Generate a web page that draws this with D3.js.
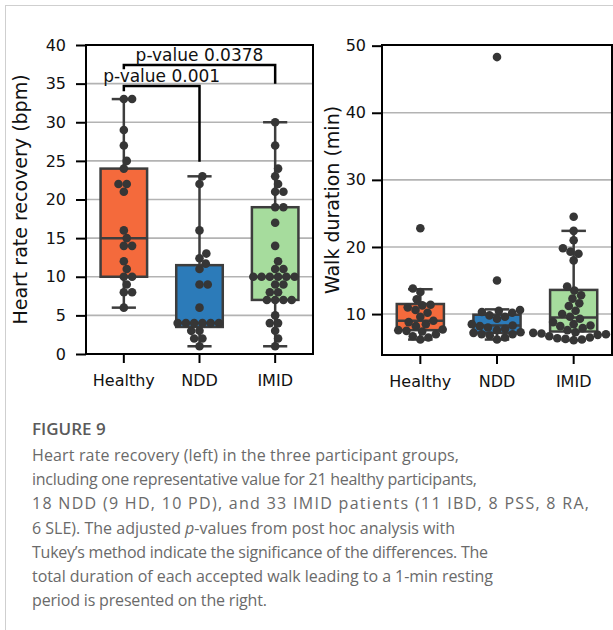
<!DOCTYPE html>
<html>
<head>
<meta charset="utf-8">
<script src="https://cdn.jsdelivr.net/npm/d3@7/dist/d3.min.js"></script>
<style>
  html, body { margin: 0; padding: 0; background: #fff; }
  svg { display: block; }
</style>
</head>
<body>
<svg id="chart" width="613" height="630"></svg>
<script>
// ---------------- DATA ----------------
const categories = ["Healthy", "NDD", "IMID"];

// Heart rate recovery (bpm) – individual points
const hrrHealthy = [33, 33, 29, 27, 25, 24, 22, 22, 21, 16, 15, 14, 14, 12, 11, 10, 10, 9, 8, 8, 6];
const hrrNDD = [23, 22, 16, 13, 12.4, 11.7, 11, 9, 9, 6, 4, 4, 4, 4, 4, 4, 3, 3, 2, 2, 1];
const hrrIMID = [30, 27, 24, 23, 22, 21, 21, 19, 19, 17, 14, 12, 11, 11, 10, 10, 10, 10, 10, 10,
                 9, 9, 8, 8, 7, 7, 7, 7, 5, 4, 4, 3, 2, 1];
// Heart rate recovery box statistics
const hrrQ1 = [10, 3.5, 7];
const hrrMedian = [15, 4, 10];
const hrrQ3 = [24, 11.5, 19];
const hrrLow = [6, 1, 1];
const hrrHigh = [33, 23, 30];

// Walk duration (min) – individual points
const walkHealthy = [22.8, 13.8, 13.3, 12.2, 11.4, 11.3, 11.0, 10.6, 10.2, 9.6, 9.0, 8.8, 8.5, 8.2,
                     7.7, 7.6, 7.5, 7.4, 7.0, 6.7, 6.5, 6.2];
const walkNDD = [48.3, 15.0, 10.6, 10.5, 10.3, 10.2, 9.8, 9.6, 9.3, 8.5, 8.3, 8.2, 8.0, 7.8, 7.6,
                 7.3, 7.2, 7.0, 7.0, 6.8, 6.5, 6.2];
const walkIMID = [24.5, 22.4, 21.0, 19.8, 19.3, 19.0, 18.0, 14.1, 13.5, 12.8, 12.3, 11.6, 11.2, 10.5,
                  10.0, 9.6, 9.3, 8.8, 8.5, 8.3, 8.2, 7.9, 7.6, 7.3, 7.2, 7.1, 7.0, 6.9, 6.7, 6.5,
                  6.4, 6.3, 6.2, 6.1];
// Walk duration box statistics
const walkQ1 = [7.6, 7.2, 7.4];
const walkMedian = [9.0, 8.3, 9.5];
const walkQ3 = [11.5, 9.9, 13.6];
const walkLow = [6.2, 6.2, 6.1];
const walkHigh = [13.7, 10.7, 22.4];

// Tick labels
const hrrTicks = [0, 5, 10, 15, 20, 25, 30, 35, 40];
const walkTicks = [10, 20, 30, 40, 50];

// Significance annotations (left panel)
const sigFrom = ["Healthy", "Healthy"];
const sigTo = ["NDD", "IMID"];
const sigLabel = ["p-value 0.001", "p-value 0.0378"];
const sigBar = [34.7, 37.4];
const sigLeftEnd = [34.0, 36.85];
const sigRightEnd = [24.9, 35.0];

const captionTitle = "FIGURE 9";
const captionLines = [
  "Heart rate recovery (left) in the three participant groups,",
  "including one representative value for 21 healthy participants,",
  "18 NDD (9 HD, 10 PD), and 33 IMID patients (11 IBD, 8 PSS, 8 RA,",
  "6 SLE). The adjusted |p|-values from post hoc analysis with",
  "Tukey\u2019s method indicate the significance of the differences. The",
  "total duration of each accepted walk leading to a 1-min resting",
  "period is presented on the right."
];
// measured rendered width of each caption line in the reference (px)
const captionWidths = [427, 445, 557, 423, 456, 461, 235];

// ---------------- STYLE ----------------
const boxColors = ["#f46a3c", "#2c7bb9", "#a6dc9d"];
const edgeColor = "#3d3d3d";
const dotColor = "#363636";
const gridColor = "#b3b3b3";
const fontFam = "DejaVu Sans, sans-serif";

const svg = d3.select("#chart");

// page border
svg.append("line").attr("x1", 5.5).attr("x2", 5.5).attr("y1", 5).attr("y2", 630)
  .attr("stroke", "#cfcfcf").attr("stroke-width", 1);
svg.append("line").attr("x1", 5).attr("x2", 613).attr("y1", 5.5).attr("y2", 5.5)
  .attr("stroke", "#cfcfcf").attr("stroke-width", 1);

function drawPanel(opts) {
  const { x0, x1, y0, y1, domain, ticks, groups, q1, med, q3, lo, hi, ylabel, ylabelX, yPad } = opts;
  const x = d3.scaleBand().domain(categories).range([x0, x1]).padding(0);
  const y = d3.scaleLinear().domain(domain).range([y1, y0]);
  const g = svg.append("g");
  const bw = x.bandwidth() * 0.615;
  const capW = bw * 0.52;

  // grid
  g.append("g").selectAll("line").data(ticks.filter(t => y(t) > y0 + 1 && y(t) < y1 - 1)).join("line")
    .attr("x1", x0).attr("x2", x1).attr("y1", d => y(d)).attr("y2", d => y(d))
    .attr("stroke", gridColor).attr("stroke-width", 1.6);

  // boxes
  categories.forEach((c, i) => {
    const cx = x(c) + x.bandwidth() / 2;
    g.append("line").attr("x1", cx).attr("x2", cx).attr("y1", y(hi[i])).attr("y2", y(q3[i]))
      .attr("stroke", edgeColor).attr("stroke-width", 2.5);
    g.append("line").attr("x1", cx).attr("x2", cx).attr("y1", y(q1[i])).attr("y2", y(lo[i]))
      .attr("stroke", edgeColor).attr("stroke-width", 2.5);
    [hi[i], lo[i]].forEach(v => {
      g.append("line").attr("x1", cx - capW / 2).attr("x2", cx + capW / 2)
        .attr("y1", y(v)).attr("y2", y(v))
        .attr("stroke", edgeColor).attr("stroke-width", 2.5);
    });
    g.append("rect").attr("x", cx - bw / 2).attr("width", bw)
      .attr("y", y(q3[i])).attr("height", y(q1[i]) - y(q3[i]))
      .attr("fill", boxColors[i]).attr("stroke", edgeColor).attr("stroke-width", 2.5);
    g.append("line").attr("x1", cx - bw / 2).attr("x2", cx + bw / 2)
      .attr("y1", y(med[i])).attr("y2", y(med[i]))
      .attr("stroke", edgeColor).attr("stroke-width", 2.5);
  });

  // swarm points
  const r = 4.3;
  const d = 2 * r * 0.96;
  categories.forEach((c, i) => {
    const cx = x(c) + x.bandwidth() / 2;
    const vals = groups[i].slice().sort((a, b) => a - b);
    const placed = [];
    vals.forEach(v => {
      const py = y(v);
      const cands = [0];
      placed.forEach(p => {
        const dy = Math.abs(p.y - py);
        if (dy < d) {
          const dx = Math.sqrt(d * d - dy * dy);
          cands.push(p.dx + dx, p.dx - dx);
        }
      });
      cands.sort((a, b) => Math.abs(a) - Math.abs(b) || b - a);
      let chosen = 0;
      for (const cdx of cands) {
        const ok = placed.every(p => Math.hypot(p.dx - cdx, p.y - py) >= d - 0.01);
        if (ok) { chosen = cdx; break; }
      }
      placed.push({ dx: chosen, y: py });
    });
    g.append("g").selectAll("circle").data(placed).join("circle")
      .attr("cx", p => cx + p.dx).attr("cy", p => p.y).attr("r", r)
      .attr("fill", dotColor);
  });

  // frame
  g.append("rect").attr("x", x0).attr("y", y0).attr("width", x1 - x0).attr("height", y1 - y0)
    .attr("fill", "none").attr("stroke", "#000").attr("stroke-width", 2);

  // axes
  const yAxis = d3.axisLeft(y).tickValues(ticks).tickSize(10).tickPadding(yPad).tickFormat(d3.format("d"));
  const ya = g.append("g").attr("transform", `translate(${x0},0)`).call(yAxis);
  ya.select(".domain").remove();
  ya.selectAll(".tick line").attr("stroke", "#000").attr("stroke-width", 2);
  ya.selectAll(".tick text").attr("font-family", fontFam).attr("font-size", 16).attr("fill", "#111");

  const xAxis = d3.axisBottom(x).tickSize(9).tickPadding(12);
  const xa = g.append("g").attr("transform", `translate(0,${y1})`).call(xAxis);
  xa.select(".domain").remove();
  xa.selectAll(".tick line").attr("stroke", "#000").attr("stroke-width", 2);
  xa.selectAll(".tick text").attr("font-family", fontFam).attr("font-size", 16).attr("fill", "#111");

  g.append("text").attr("transform", `translate(${ylabelX},${(y0 + y1) / 2}) rotate(-90)`)
    .attr("text-anchor", "middle").attr("dominant-baseline", "central")
    .attr("font-family", fontFam).attr("font-size", 19).attr("fill", "#111")
    .text(ylabel);

  return { x, y, g };
}

const left = drawPanel({
  x0: 86, x1: 313, y0: 45, y1: 354, domain: [0, 40], ticks: hrrTicks,
  groups: [hrrHealthy, hrrNDD, hrrIMID], q1: hrrQ1, med: hrrMedian, q3: hrrQ3, lo: hrrLow, hi: hrrHigh,
  ylabel: "Heart rate recovery (bpm)", ylabelX: 20, yPad: 10
});
const right = drawPanel({
  x0: 382, x1: 612, y0: 45, y1: 355, domain: [3.9, 50.1], ticks: walkTicks,
  groups: [walkHealthy, walkNDD, walkIMID], q1: walkQ1, med: walkMedian, q3: walkQ3, lo: walkLow, hi: walkHigh,
  ylabel: "Walk duration (min)", ylabelX: 332, yPad: 6
});

// significance brackets
sigLabel.forEach((lab, i) => {
  const { x, y, g } = left;
  const xa = x(sigFrom[i]) + x.bandwidth() / 2;
  const xb = x(sigTo[i]) + x.bandwidth() / 2;
  const path = d3.path();
  path.moveTo(xa, y(sigLeftEnd[i]));
  path.lineTo(xa, y(sigBar[i]));
  path.lineTo(xb, y(sigBar[i]));
  path.lineTo(xb, y(sigRightEnd[i]));
  g.append("path").attr("d", path.toString()).attr("fill", "none")
    .attr("stroke", "#000").attr("stroke-width", 2.5);
  g.append("text").attr("x", (xa + xb) / 2).attr("y", y(sigBar[i]) - 4)
    .attr("text-anchor", "middle").attr("font-family", fontFam).attr("font-size", 17)
    .attr("fill", "#111").text(lab);
});

// caption
const capFont = "'Open Sans', 'Noto Sans', sans-serif";
svg.append("text").attr("x", 32).attr("y", 435).attr("font-family", capFont)
  .attr("font-size", 17).attr("font-weight", 600).attr("fill", "#5a5a5a").text(captionTitle);
captionLines.forEach((ln, i) => {
  const t = svg.append("text").attr("x", 32).attr("y", 461 + i * 24.2)
    .attr("font-family", capFont).attr("font-size", 16).attr("font-weight", 400).attr("fill", "#6a6a6a")
    .attr("textLength", captionWidths[i]).attr("lengthAdjust", "spacing");
  const parts = ln.split("|");
  parts.forEach((p, j) => {
    const ts = t.append("tspan").text(p);
    if (j % 2 === 1) ts.attr("font-style", "italic");
  });
});
</script>
</body>
</html>
